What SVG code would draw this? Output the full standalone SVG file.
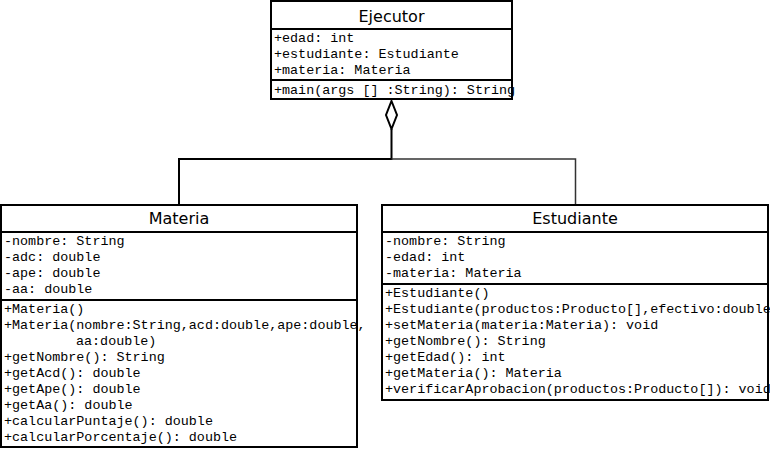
<svg xmlns="http://www.w3.org/2000/svg" width="770" height="450" viewBox="0 0 770 450">
<style>
.box{fill:#fff;stroke:#000;stroke-width:2}
.sep{stroke:#000;stroke-width:2}
.title{font-family:"DejaVu Sans",sans-serif;font-size:16px;fill:#000;text-anchor:middle}
.m{font-family:"Liberation Mono","Courier New",monospace;font-size:13.4px;fill:#000}
.conn{fill:none;stroke:#000;stroke-width:2}
</style>
<rect width="770" height="450" fill="#fff"/>
<g id="connectors">
<polygon class="conn" points="391.5,101 397,115 391.5,129 386,115" fill="#fff"/>
<polyline class="conn" points="391.5,129 391.5,159 179,159 179,205"/>
<polyline fill="none" stroke="#333" stroke-width="1.5" points="391.5,159 575.5,159 575.5,205"/>
</g>
<g id="Ejecutor">
<rect class="box" x="271" y="1" width="241" height="98"/>
<line class="sep" x1="271" y1="29" x2="512" y2="29"/>
<line class="sep" x1="271" y1="80" x2="512" y2="80"/>
<text class="title" x="391.5" y="22">Ejecutor</text>
<text class="m" x="274" y="42">+edad: int</text>
<text class="m" x="274" y="58">+estudiante: Estudiante</text>
<text class="m" x="274" y="74">+materia: Materia</text>
<text class="m" x="274" y="94">+main(args [] :String): String</text>
</g>
<g id="Materia">
<rect class="box" x="1" y="205" width="356" height="242"/>
<line class="sep" x1="1" y1="232" x2="357" y2="232"/>
<line class="sep" x1="1" y1="300" x2="357" y2="300"/>
<text class="title" x="179" y="224">Materia</text>
<text class="m" x="4" y="245">-nombre: String</text>
<text class="m" x="4" y="261">-adc: double</text>
<text class="m" x="4" y="277">-ape: double</text>
<text class="m" x="4" y="293">-aa: double</text>
<text class="m" x="4" y="313">+Materia()</text>
<text class="m" x="4" y="329">+Materia(nombre:String,acd:double,ape:double,</text>
<text class="m" x="76" y="345">aa:double)</text>
<text class="m" x="4" y="361">+getNombre(): String</text>
<text class="m" x="4" y="377">+getAcd(): double</text>
<text class="m" x="4" y="393">+getApe(): double</text>
<text class="m" x="4" y="409">+getAa(): double</text>
<text class="m" x="4" y="425">+calcularPuntaje(): double</text>
<text class="m" x="4" y="441">+calcularPorcentaje(): double</text>
</g>
<g id="Estudiante">
<rect class="box" x="382" y="205" width="386" height="195"/>
<line class="sep" x1="382" y1="232" x2="768" y2="232"/>
<line class="sep" x1="382" y1="284" x2="768" y2="284"/>
<text class="title" x="575" y="224">Estudiante</text>
<text class="m" x="385" y="245">-nombre: String</text>
<text class="m" x="385" y="261">-edad: int</text>
<text class="m" x="385" y="277">-materia: Materia</text>
<text class="m" x="385" y="297">+Estudiante()</text>
<text class="m" x="385" y="313">+Estudiante(productos:Producto[],efectivo:double</text>
<text class="m" x="385" y="329">+setMateria(materia:Materia): void</text>
<text class="m" x="385" y="345">+getNombre(): String</text>
<text class="m" x="385" y="361">+getEdad(): int</text>
<text class="m" x="385" y="377">+getMateria(): Materia</text>
<text class="m" x="385" y="393">+verificarAprobacion(productos:Producto[]): void</text>
</g>
</svg>
